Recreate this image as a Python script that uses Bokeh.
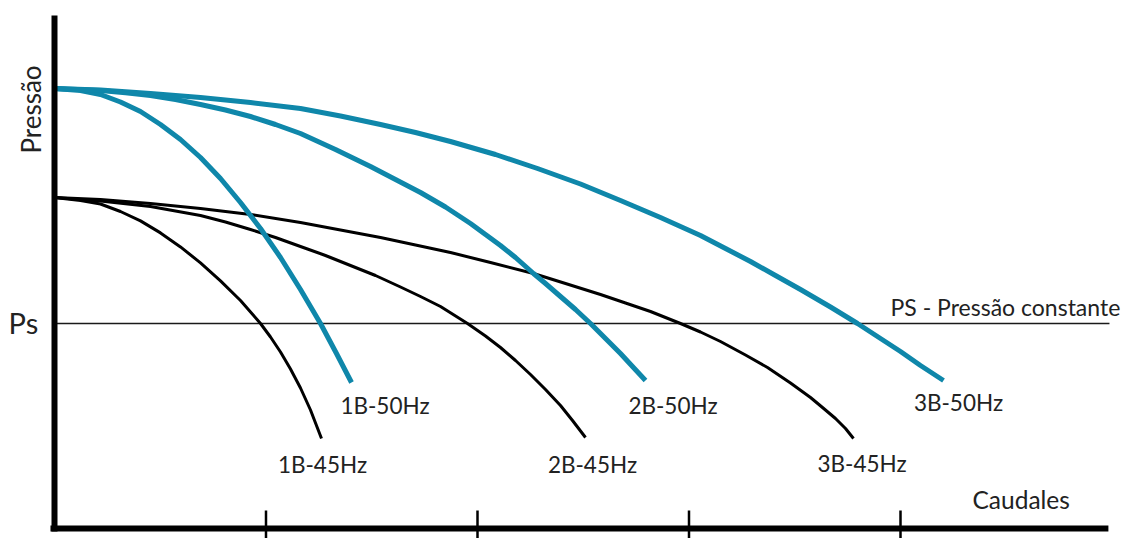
import math
from bokeh.plotting import figure
from bokeh.models import Range1d
from bokeh.embed import file_html
from bokeh.resources import INLINE
from bokeh.core.properties import value

# ---- data (Q = caudal in tick units, H = pressão) ----
q_1b_50 = [0, 0.123, 0.2175, 0.312, 0.4066, 0.5012, 0.5957, 0.6903, 0.7849, 0.8794, 0.974,
           1.0686, 1.1631, 1.2577, 1.3333, 1.4043]
h_1b_50 = [4.39, 4.37, 4.33, 4.255, 4.16, 4.03, 3.88, 3.70, 3.49, 3.25, 2.99,
           2.70, 2.38, 2.04, 1.74, 1.45]

q_1b_45 = [0, 0.123, 0.2175, 0.312, 0.4066, 0.5012, 0.5957, 0.6903, 0.7849, 0.8794, 0.974,
           1.0213, 1.0686, 1.1158, 1.1631, 1.2104, 1.2624]
h_1b_45 = [3.30, 3.27, 3.235, 3.16, 3.066, 2.946, 2.806, 2.646, 2.466, 2.27, 2.04,
           1.905, 1.755, 1.585, 1.395, 1.175, 0.89]

q_2b_50 = [0, 0.2175, 0.3357, 0.4539, 0.5721, 0.6903, 0.8085, 0.9267, 1.0449, 1.1631, 1.3286,
           1.4941, 1.6123, 1.7305, 1.8487, 1.9669, 2.0378, 2.1087, 2.1797, 2.2648, 2.3215,
           2.3924, 2.4634, 2.5343, 2.6052, 2.6761, 2.7329, 2.7943]
h_2b_50 = [4.39, 4.37, 4.347, 4.32, 4.28, 4.23, 4.175, 4.11, 4.03, 3.94, 3.78,
           3.61, 3.48, 3.35, 3.205, 3.04, 2.93, 2.82, 2.70, 2.54, 2.44,
           2.31, 2.18, 2.04, 1.89, 1.74, 1.61, 1.47]

q_2b_45 = [0, 0.2175, 0.4539, 0.6903, 0.8085, 0.9267, 1.0449, 1.1631, 1.2813, 1.3995, 1.5177,
           1.6359, 1.7305, 1.8251, 1.9527, 2.0378, 2.1087, 2.1797, 2.2506, 2.3215, 2.3924,
           2.4492, 2.5106]
h_2b_45 = [3.30, 3.265, 3.21, 3.12, 3.055, 2.98, 2.90, 2.81, 2.72, 2.62, 2.52,
           2.405, 2.31, 2.21, 2.04, 1.915, 1.80, 1.67, 1.53, 1.38, 1.22,
           1.07, 0.90]

q_3b_50 = [0, 0.2175, 0.4539, 0.6903, 0.9267, 1.1631, 1.3522, 1.5414, 1.7069, 1.8723, 2.0851,
           2.2837, 2.487, 2.6761, 2.8652, 3.0544, 3.1726, 3.2908, 3.409, 3.5272, 3.669,
           3.7967, 3.9054, 4.0, 4.0946, 4.2033]
h_3b_50 = [4.39, 4.375, 4.34, 4.30, 4.25, 4.19, 4.115, 4.03, 3.95, 3.86, 3.73,
           3.59, 3.435, 3.27, 3.10, 2.92, 2.79, 2.66, 2.52, 2.38, 2.205,
           2.04, 1.89, 1.76, 1.62, 1.47]

q_3b_45 = [0, 0.2175, 0.4539, 0.6903, 0.9267, 1.1631, 1.3522, 1.5414, 1.7069, 1.8723, 2.0615,
           2.2648, 2.4161, 2.5816, 2.6998, 2.818, 2.9598, 3.0544, 3.1489, 3.2671, 3.3712,
           3.4799, 3.5745, 3.6312, 3.6927, 3.74, 3.7778]
h_3b_45 = [3.30, 3.28, 3.24, 3.19, 3.13, 3.05, 2.975, 2.90, 2.825, 2.75, 2.65,
           2.54, 2.44, 2.33, 2.245, 2.16, 2.04, 1.955, 1.86, 1.725, 1.60,
           1.445, 1.30, 1.20, 1.09, 0.99, 0.89]

ps_level = 2.04
q_ticks = [1, 2, 3, 4]

labels_50 = ["1B-50Hz", "2B-50Hz", "3B-50Hz"]
labels_45 = ["1B-45Hz", "2B-45Hz", "3B-45Hz"]

BLUE = "#0f87aa"
TXT = "#222222"
FONT = "Lato"

p = figure(width=1124, height=538, output_backend="svg", toolbar_location=None,
           x_range=Range1d(-0.2553, 5.0591), y_range=Range1d(-0.11, 5.27),
           x_axis_type=None, y_axis_type=None, min_border=0)
p.outline_line_color = None
p.background_fill_color = "white"
p.border_fill_color = "white"

# constant pressure line
p.segment(x0=[0], y0=[ps_level], x1=[4.988], y1=[ps_level], line_color="#1a1a1a", line_width=1.5)

# 45 Hz curves (black)
for q, h in [(q_1b_45, h_1b_45), (q_2b_45, h_2b_45), (q_3b_45, h_3b_45)]:
    p.line(q, h, line_color="black", line_width=3, line_cap="butt", line_join="round")

# 50 Hz curves (blue)
for q, h in [(q_1b_50, h_1b_50), (q_2b_50, h_2b_50), (q_3b_50, h_3b_50)]:
    p.line(q, h, line_color=BLUE, line_width=5, line_cap="butt", line_join="round")

# axes
p.segment(x0=[0], y0=[-0.04], x1=[0], y1=[5.12], line_color="black", line_width=6, line_cap="butt")
p.segment(x0=[-0.019], y0=[-0.01], x1=[4.983], y1=[-0.01], line_color="black", line_width=6, line_cap="butt")
p.segment(x0=q_ticks, y0=[0.17] * 4, x1=q_ticks, y1=[-0.12] * 4, line_color="black", line_width=2.5)

# curve labels
p.text(x=[1.5626, 2.9243, 4.2742], y=[1.225, 1.225, 1.255], text=labels_50,
       text_font=value(FONT), text_font_size="22.5px", text_color=TXT,
       text_align="center", text_baseline="alphabetic")
p.text(x=[1.2671, 2.5437, 3.818], y=[0.635, 0.635, 0.645], text=labels_45,
       text_font=value(FONT), text_font_size="22.5px", text_color=TXT,
       text_align="center", text_baseline="alphabetic")

# other texts
p.text(x=[3.9527], y=[2.21], text=["PS - Pressão constante"],
       text_font=value(FONT), text_font_size="23px", text_color=TXT,
       text_align="left", text_baseline="alphabetic")
p.text(x=[4.3404], y=[0.28], text=["Caudales"],
       text_font=value(FONT), text_font_size="24.5px", text_color=TXT,
       text_align="left", text_baseline="alphabetic")
p.text(x=[-0.217], y=[2.05], text=["Ps"],
       text_font=value(FONT), text_font_size="29px", text_color=TXT,
       text_align="left", text_baseline="alphabetic")
p.text(x=[-0.109], y=[4.18], text=["Pressão"], angle=math.pi / 2,
       text_font=value(FONT), text_font_size="26px", text_color=TXT,
       text_align="center", text_baseline="alphabetic")

open("out.html", "w").write(file_html(p, INLINE))
